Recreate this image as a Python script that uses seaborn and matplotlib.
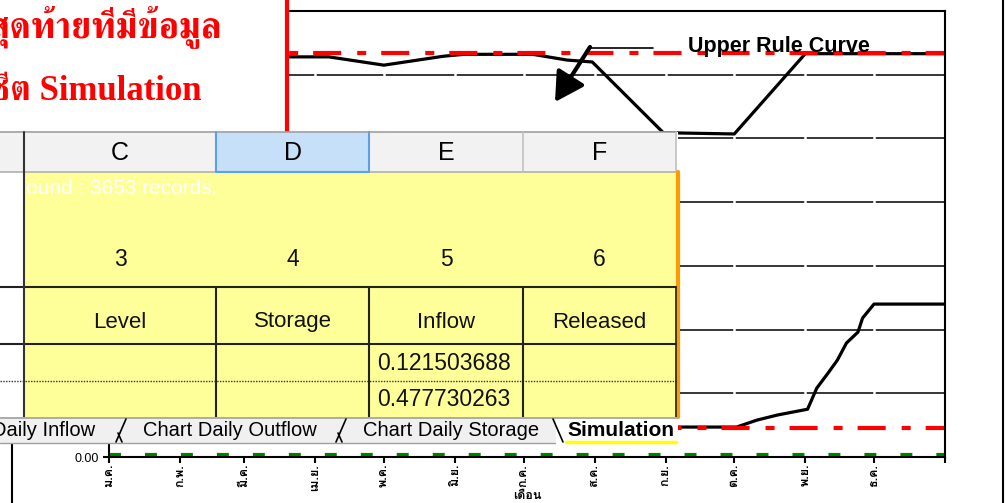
import matplotlib
matplotlib.use("Agg")
import matplotlib.pyplot as plt
import seaborn as sns
import numpy as np
import pandas as pd
from matplotlib import font_manager
from matplotlib.ft2font import FT2Font
from matplotlib.patches import Rectangle
from matplotlib.lines import Line2D

# ---------------- data ----------------
month_labels = ["ม.ค.", "ก.พ.", "มี.ค.", "เม.ย.", "พ.ค.", "มิ.ย.",
                "ก.ค.", "ส.ค.", "ก.ย.", "ต.ค.", "พ.ย.", "ธ.ค."]
month_start_days = [0, 31, 59, 90, 120, 151, 181, 212, 243, 273, 304, 334]
year_days = 365
x_axis_label = "เดือน"

upper_rule_days = [0, 78, 96, 120, 146, 155, 185, 200, 211, 242, 273, 304, 365]
upper_rule_vals = [62.8, 62.8, 62.8, 61.5, 62.9, 63.2, 63.2, 62.3, 62.0, 50.9, 50.7, 63.3, 63.3]

lower_rule_days = [0, 274, 283, 292, 305, 309, 314, 318, 322, 327, 329, 334, 365]
lower_rule_vals = [4.7, 4.7, 5.8, 6.6, 7.5, 10.8, 13.2, 15.2, 17.9, 19.6, 21.8, 24.0, 24.0]

max_storage = 63.4
min_storage = 4.55
dead_storage = 0.3
y_max = 70
y_step = 10

annotation_text = "Upper Rule Curve"
title_lines = ["สุดท้ายที่มีข้อมูล", "ชีต Simulation"]
sheet_columns = ["C", "D", "E", "F"]
sheet_col_numbers = ["3", "4", "5", "6"]
sheet_headers = ["Level", "Storage", "Inflow", "Released"]
sheet_inflow_values = ["0.121503688", "0.477730263"]
sheet_note = "ound : 3653 records."
sheet_tabs = ["Daily Inflow", "Chart Daily Outflow", "Chart Daily Storage", "Simulation"]

# ---------------- fonts ----------------
def fonts_covering(ch):
    names = []
    for fe in font_manager.fontManager.ttflist:
        try:
            if ord(ch) in FT2Font(fe.fname).get_charmap():
                if fe.name not in names:
                    names.append(fe.name)
        except Exception:
            pass
    return names

thai_fonts = fonts_covering("ก")
thai_sans = "Loma" if "Loma" in thai_fonts else (thai_fonts[0] if thai_fonts else "DejaVu Sans")
thai_serif = "FreeSerif" if "FreeSerif" in thai_fonts else thai_sans

plt.rcParams["lines.scale_dashes"] = False
sns.set_theme(style="ticks")
plt.rcParams["font.family"] = ["Liberation Sans", thai_sans, "DejaVu Sans"]
plt.rcParams["lines.scale_dashes"] = False
plt.rcParams["text.color"] = "black"

W, H = 1007, 503
fig = plt.figure(figsize=(W / 100, H / 100), dpi=100)
fig.patch.set_facecolor("white")

ax = fig.add_axes([109 / W, 1 - 457 / H, (945 - 109) / W, (457 - 11) / H])
ax.set_facecolor("white")

# gridlines
for v in np.arange(y_step, y_max, y_step):
    ax.axhline(v, color="black", lw=1.1, zorder=1)
for d in month_start_days[1:]:
    ax.axvline(d, color="white", lw=1.8, zorder=1.5)

upper_df = pd.DataFrame({"day": upper_rule_days, "storage": upper_rule_vals})
lower_df = pd.DataFrame({"day": lower_rule_days, "storage": lower_rule_vals})
sns.lineplot(data=upper_df, x="day", y="storage", color="black", lw=2.3,
             ax=ax, zorder=3, estimator=None, sort=False)
sns.lineplot(data=lower_df, x="day", y="storage", color="black", lw=2.3,
             ax=ax, zorder=3, estimator=None, sort=False)

red_dash = (20.2, 11.5, 6.5, 10.8)
ax.axhline(max_storage, color="#ff0000", lw=3.0, dashes=red_dash, zorder=4)
ax.axhline(min_storage, color="#ff0000", lw=3.0, dashes=red_dash, zorder=4)
ax.axhline(dead_storage, color="#008000", lw=3.0, dashes=(8.6, 17.3), zorder=4)

ax.set_xlim(0, year_days)
ax.set_ylim(0, y_max)
ax.set_xlabel("")
ax.set_ylabel("")
for s in ax.spines.values():
    s.set_visible(True)
    s.set_color("black")
    s.set_linewidth(1.5)
    s.set_zorder(5)

ax.set_xticks(month_start_days + [year_days])
ax.set_xticklabels(month_labels + [""], rotation=90, fontsize=9,
                   fontweight="bold", family=[thai_sans, "DejaVu Sans"], color="black")
yt = np.arange(0, y_max + 1, y_step)
ax.set_yticks(yt)
ax.set_yticklabels([f"{v:.2f}" for v in yt], fontsize=9, color="black")
ax.tick_params(axis="x", bottom=True, direction="out", length=4, width=1.5, pad=1, colors="black")
ax.tick_params(axis="y", left=True, direction="out", length=4, width=1.5, pad=3, colors="black")
ax.text(0.5, -0.088, x_axis_label, transform=ax.transAxes, ha="center", va="center",
        fontsize=9, fontweight="bold", family=[thai_sans, "DejaVu Sans"], color="black")

# ---------------- overlay (screenshot elements) ----------------
ov = fig.add_axes([0, 0, 1, 1], zorder=10)
ov.set_xlim(0, W)
ov.set_ylim(H, 0)
ov.axis("off")

def rect(x0, y0, x1, y1, fc, ec="none", lw=0, z=1):
    ov.add_patch(Rectangle((x0, y0), x1 - x0, y1 - y0, fc=fc, ec=ec, lw=lw, zorder=z))

def line(xs, ys, color="black", lw=1.0, z=2, **kw):
    ov.add_line(Line2D(xs, ys, color=color, lw=lw, zorder=z, **kw))

# annotation for Upper Rule Curve
ov.text(688, 52, annotation_text, fontsize=15.5, fontweight="bold", ha="left",
        va="baseline", family="Liberation Sans", zorder=3, color="black")
line([590, 653], [48, 48], lw=1.2)
ov.annotate("", xy=(555, 102), xytext=(590, 47),
            arrowprops=dict(arrowstyle="-|>,head_length=0.8,head_width=0.45",
                            lw=3, color="black", mutation_scale=22, shrinkA=0, shrinkB=0))

# chart object borders
line([12, 12], [443, H], lw=1.5)
line([1003, 1003], [0, H], lw=1.5)

# title box
rect(-5, -5, 286, 133, "white", z=1)
line([287, 287], [0, 133], color="#ff0000", lw=3, z=2)
tfam = ["Liberation Serif", thai_serif]
ov.text(222, 37, title_lines[0], color="#ff0000", fontsize=26.3, fontweight="bold",
        ha="right", va="baseline", family=tfam, zorder=3)
ov.text(202, 100, title_lines[1], color="#ff0000", fontsize=25, fontweight="bold",
        ha="right", va="baseline", family=tfam, zorder=3)

# spreadsheet
col_edges = [24, 216, 369, 523, 676]
rect(0, 132, 678, 443, "white", z=4)
rect(0, 132, 676, 172, "#f2f2f2", z=4)
rect(col_edges[1], 132, col_edges[2], 172, "#c6e0fa", z=4.1)
line([0, 676], [132, 132], color="#a0a0a0", lw=1.2, z=5)
line([0, 676], [172, 172], color="#b0b0b0", lw=1.2, z=5)
for xe in col_edges:
    line([xe, xe], [132, 172], color="#c0c0c0", lw=1.2, z=5)
line([col_edges[1], col_edges[1], col_edges[2], col_edges[2]], [132, 172, 172, 132],
     color="#5ba0e8", lw=1.5, z=5.1)
for i, c in enumerate(sheet_columns):
    cx = (col_edges[i] + col_edges[i + 1]) / 2
    ov.text(cx, 153, c, fontsize=18, ha="center", va="center", color="black",
            family="Liberation Sans", zorder=6)

rect(24, 172, 676, 417, "#ffff99", z=4)
line([677.5, 677.5], [172, 417], color="#ff9900", lw=3, z=5)
line([24, 24], [132, 417], color="#333333", lw=1.5, z=5.2)
line([0, 676], [287, 287], color="#222222", lw=1.5, z=5)
line([0, 676], [344, 344], color="#222222", lw=1.5, z=5)
line([0, 676], [381, 381], color="#333333", lw=1.0, z=5, linestyle=(0, (1, 1)))
for xe in col_edges[1:-1]:
    line([xe, xe], [287, 417], color="#222222", lw=1.5, z=5)
line([676, 676], [287, 417], color="#222222", lw=1.2, z=5)

ov.text(26, 189, sheet_note, fontsize=15, color="white", ha="left", va="center",
        family="Liberation Sans", zorder=6)
for i, n in enumerate(sheet_col_numbers):
    cx = (col_edges[i] + col_edges[i + 1]) / 2
    ov.text(cx, 260, n, fontsize=16.5, ha="center", va="center", color="#111111",
            family="Liberation Sans", zorder=6)
for i, hname in enumerate(sheet_headers):
    cx = (col_edges[i] + col_edges[i + 1]) / 2
    ov.text(cx, 322, hname, fontsize=16, ha="center", va="center", color="#111111",
            family="Liberation Sans", zorder=6)
for j, val in enumerate(sheet_inflow_values):
    ov.text(377, [363, 399][j], val, fontsize=16.5, ha="left", va="center", color="#111111",
            family="Liberation Sans", zorder=6)

# sheet tabs
rect(0, 417, 678, 443, "#f0f0f0", z=6)
line([0, 678], [417.5, 417.5], color="#a0a0a0", lw=1.2, z=7)
line([0, 555], [443, 443], color="#a0a0a0", lw=1.0, z=7)
rect(556, 417, 678, 443, "white", z=6.5)
line([566, 676], [442, 442], color="#ffff00", lw=2.5, z=7)
for sx in [126, 346]:
    line([sx, sx - 10], [419, 442], lw=1.2, z=7)
    line([sx - 8, sx - 4], [433, 442], lw=1.2, z=7)
line([553, 563], [419, 442], lw=1.2, z=7)
tab_x = [(95, "right"), (143, "left"), (363, "left"), (567, "left")]
for k, (tx, ha) in enumerate(tab_x):
    ov.text(tx, 431, sheet_tabs[k], fontsize=15 if k == 3 else 14.5, ha=ha, va="center",
            fontweight="bold" if k == 3 else "normal", family="Liberation Sans", zorder=8,
            color="black")

fig.savefig("out.png", dpi=100, facecolor="white")
